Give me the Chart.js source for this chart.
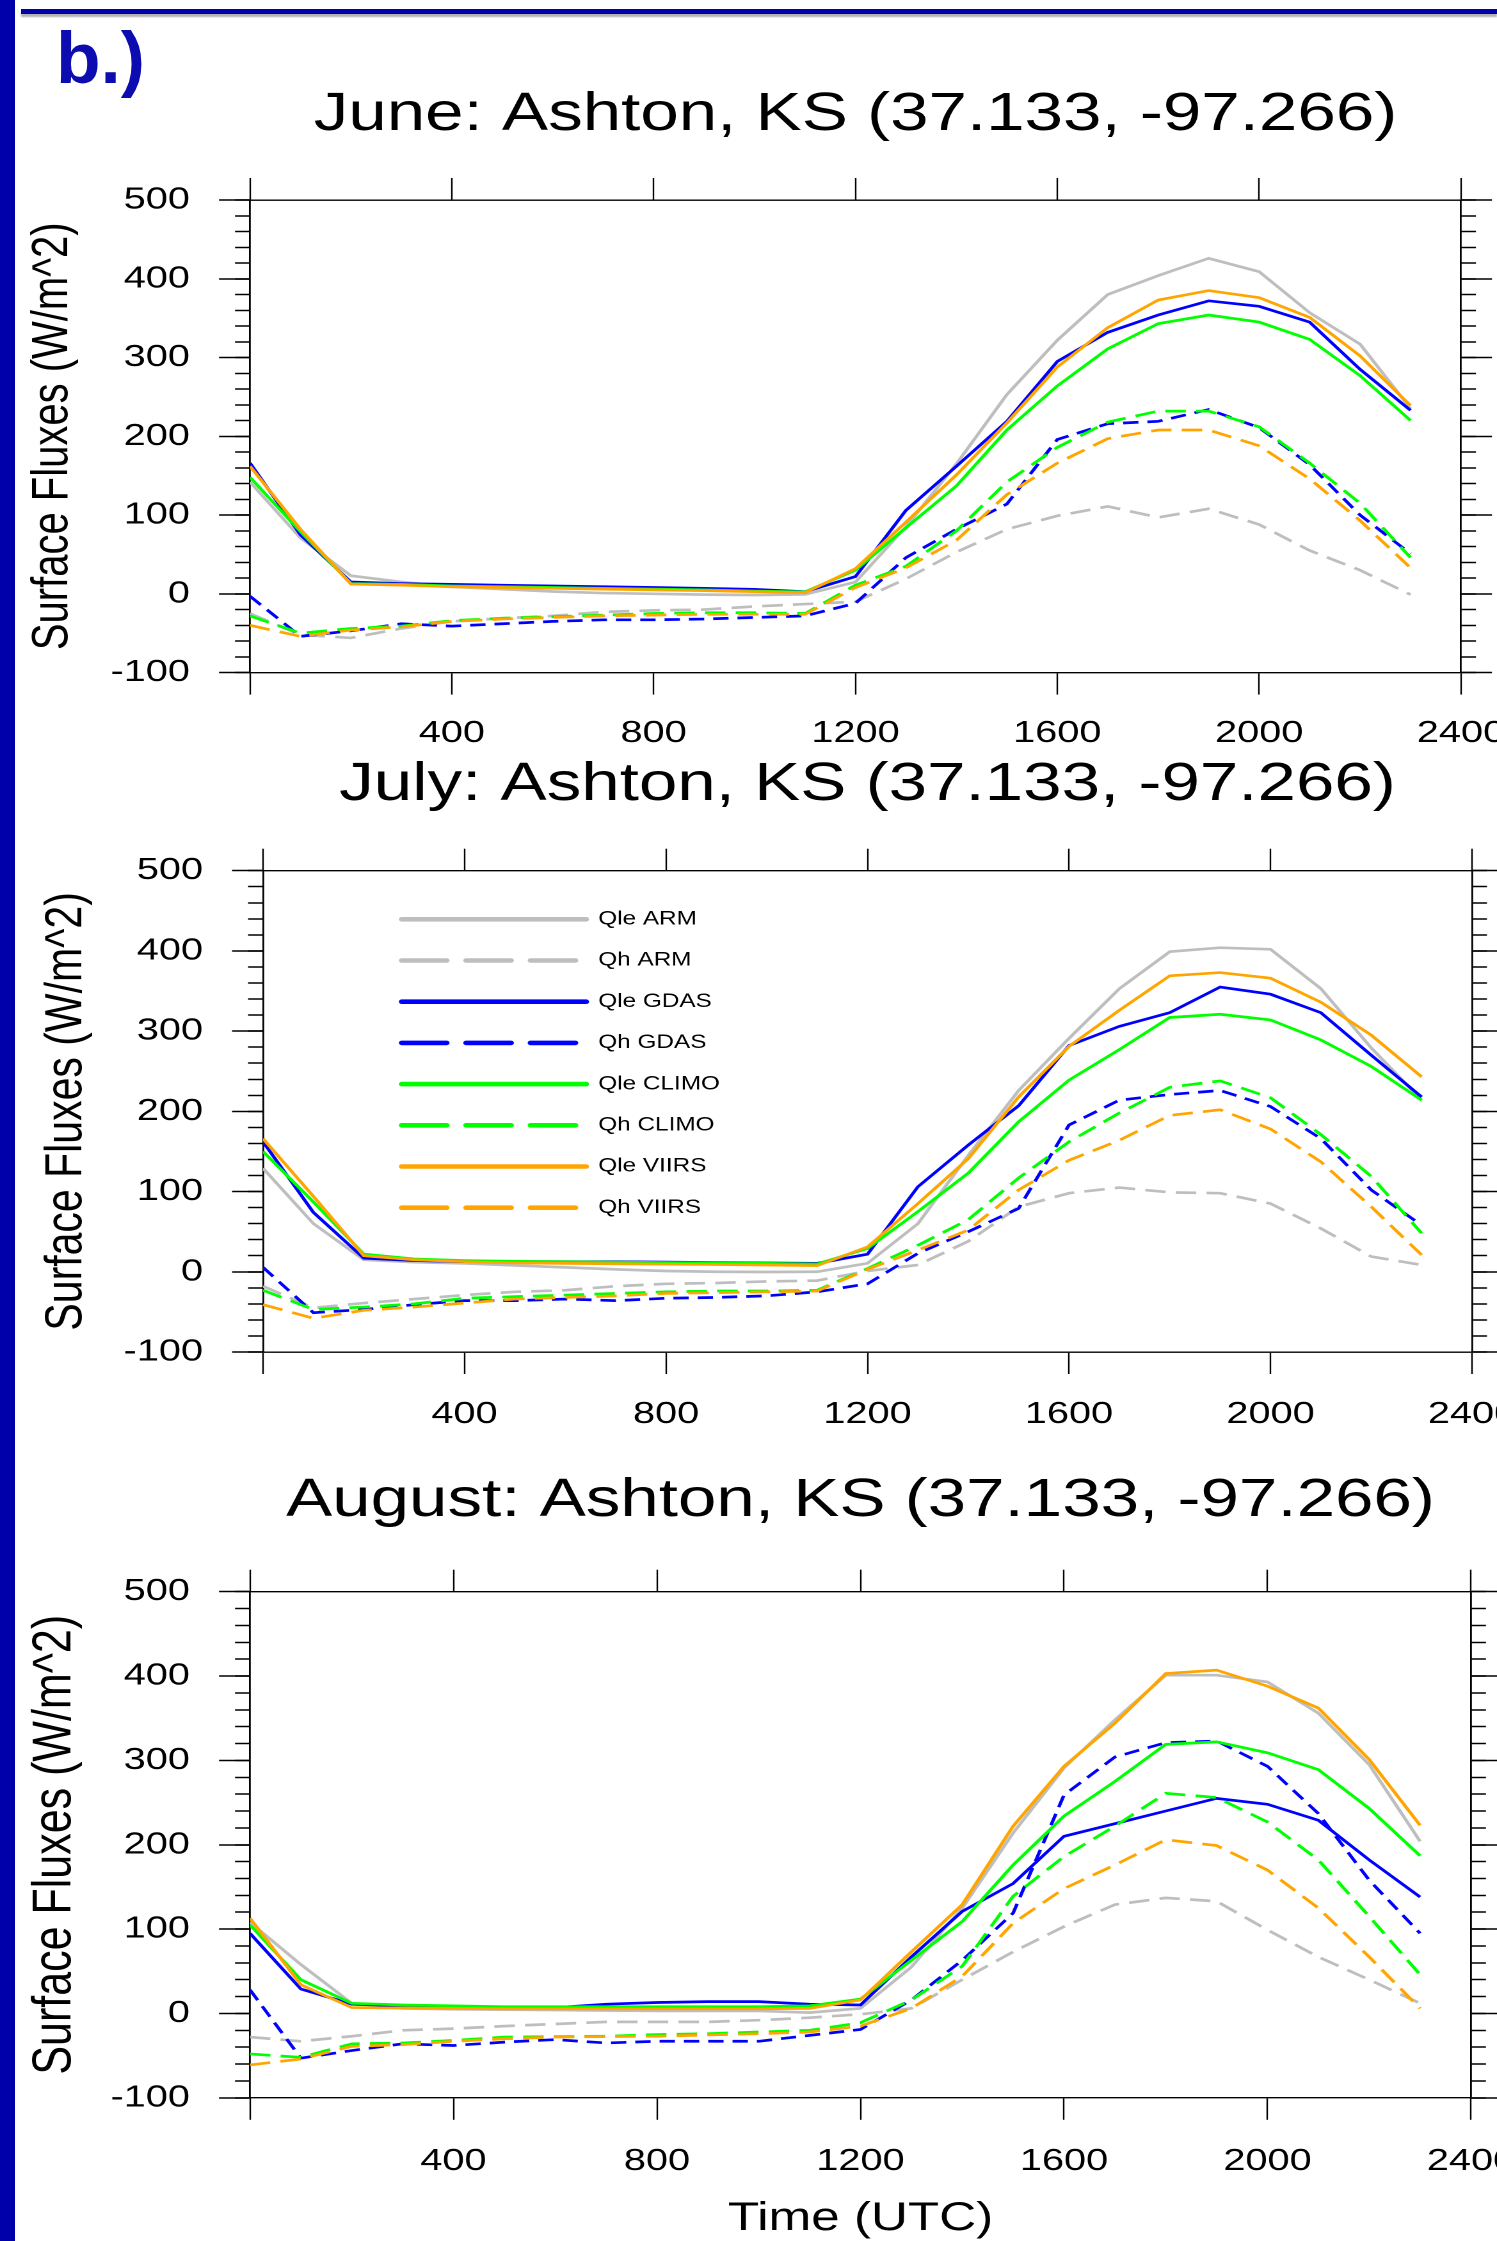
<!DOCTYPE html>
<html>
<head>
<meta charset="utf-8">
<script src="https://cdn.jsdelivr.net/npm/chart.js@4.4.1/dist/chart.umd.min.js"></script>
<style>
  body { margin: 0; width: 1497px; height: 2241px; overflow: hidden; background: #fff; position: relative; }
  /* the original figure is stretched sideways, so each chart is drawn narrow and widened */
  canvas { position: absolute; left: 0; transform: scaleX(1.28); transform-origin: 0 0; }
  #barLeft { position: absolute; left: 0; top: 0; width: 15px; height: 2241px; background: #0000aa; z-index: 2; }
  #barTop { position: absolute; left: 21px; top: 9px; right: 0; height: 5px; background: #0000aa; box-shadow: 0 3px 2px #b0b0b0; z-index: 2; }
  #tag { position: absolute; left: 56px; top: 21px; font: bold 73px/73px 'Liberation Sans', Arial, sans-serif; color: #0c0cb0; z-index: 2; }
</style>
</head>
<body>
<canvas id="june" width="1230" height="780" style="top:0px"></canvas>
<canvas id="july" width="1230" height="760" style="top:700px"></canvas>
<canvas id="august" width="1230" height="821" style="top:1420px"></canvas>
<div id="barLeft"></div>
<div id="barTop"></div>
<div id="tag">b.)</div>

<script>
// heure UTC (HHMM)
const hours = [0, 100, 200, 300, 400, 500, 600, 700, 800, 900, 1000, 1100, 1200, 1300, 1400, 1500, 1600, 1700, 1800, 1900, 2000, 2100, 2200, 2300];
const seriesNames = ['Qle ARM', 'Qh ARM', 'Qle GDAS', 'Qh GDAS', 'Qle CLIMO', 'Qh CLIMO', 'Qle VIIRS', 'Qh VIIRS'];

// June
const juneQleArm   = [142, 71, 23, 15, 9, 6, 3, 1, 0, -1, -1.5, -0.7, 15, 85, 165, 253, 322, 380, 404, 426, 409, 357, 317, 235];
const juneQhArm    = [-25, -52, -56, -44, -35, -31, -28, -23, -21, -20, -16, -13, -10, 19, 53, 82, 99, 111, 97, 108, 88, 55, 30, -1];
const juneQleGdas  = [166, 75, 15, 13, 12, 11, 10, 9, 8, 7, 5.7, 2.7, 22, 106, 162, 219, 295, 332, 354, 372, 365, 345, 285, 233];
const juneQhGdas   = [-3, -54, -47, -38, -41, -38, -35, -33, -33, -32, -30, -28, -12, 46, 82, 114, 196, 216, 219, 234, 211, 164, 100, 51];
const juneQleClimo = [148, 79, 13, 12, 10, 9, 8, 7, 6, 5, 3.5, 2.5, 30, 84, 137, 208, 264, 311, 343, 354, 345, 323, 277, 220];
const juneQhClimo  = [-28, -50, -44, -41, -34, -31, -29, -27, -25, -24, -24, -25, 11, 35, 80, 142, 186, 218, 232, 232, 212, 166, 115, 46];
const juneQleViirs = [162, 82, 12.5, 11, 9, 8, 7, 6, 5, 4, 2.7, 1.5, 32, 91, 151, 217, 288, 338, 373, 385, 376, 351, 302, 239];
const juneQhViirs  = [-40, -54, -46, -42, -35, -32, -30, -28, -27, -26, -26, -26, 8, 33, 68, 126, 166, 197, 208, 208, 188, 146, 93, 33];

// July
const julyQleArm   = [129, 60, 15, 12, 10.5, 8, 5.5, 3, 1, 0, -0.3, 0, 10.6, 60, 145, 226, 291, 353, 399, 404, 402, 353, 279, 214];
const julyQhArm    = [-18, -45, -39, -34, -29, -25, -23, -18, -15, -14, -12, -11, 1, 8.5, 38, 81, 98, 105, 99, 98, 85, 54, 19, 8.5];
const julyQleGdas  = [162, 74, 17, 14, 12.6, 12.5, 12.5, 12.5, 12, 11.5, 11, 10.5, 22, 106, 158, 207, 282, 306, 323, 355, 346, 323, 270, 218];
const julyQhGdas   = [5.5, -51, -47, -41, -36, -36, -34, -36, -33, -32, -30, -25, -15, 23, 50, 79, 183, 214, 221, 226, 206, 166, 102, 58];
const julyQleClimo = [150, 87, 22, 16, 14, 13, 12.5, 12, 11.5, 11, 10.5, 9.7, 29, 75, 123, 187, 239, 277, 317, 321, 314, 289, 256, 214];
const julyQhClimo  = [-23, -47, -44, -40, -33, -31, -29, -27, -25, -24, -24, -23, 4, 33, 65, 117, 162, 198, 230, 238, 217, 171, 119, 48];
const julyQleViirs = [166, 94, 20, 15, 12.6, 11, 10.5, 10, 9.5, 9, 8.5, 7.6, 31, 85, 141, 218, 281, 326, 369, 373, 366, 336, 295, 243];
const julyQhViirs  = [-41, -58, -48, -44, -39, -34, -32, -30, -27, -26, -25, -24, 3, 27, 52, 102, 139, 164, 195, 202, 178, 137, 81, 21];

// August
const augQleArm   = [108, 58, 12, 6, 5, 4.5, 4, 3.5, 3, 3, 3, 1, 6, 55, 125, 214, 291, 348, 401, 401, 393, 356, 295, 204];
const augQhArm    = [-28, -33, -27, -20, -18, -15, -12.5, -10, -10, -10, -8, -5, -1, 6, 40, 73, 103, 129, 137, 133, 99, 67, 40, 12];
const augQleGdas  = [95, 29, 11, 9, 8, 7.3, 7, 11, 13, 14, 14, 11, 10, 67, 121, 154, 210, 225, 240, 255, 248, 229, 182, 138];
const augQhGdas   = [28, -53, -44, -36, -38, -34, -31, -35, -33, -33, -33, -26, -19, 16, 63, 119, 259, 304, 321, 323, 293, 237, 158, 95];
const augQleClimo = [105, 40, 12, 10, 9, 8, 8, 8, 8, 8, 8, 9, 17, 63, 109, 176, 234, 275, 319, 322, 309, 289, 243, 187];
const augQhClimo  = [-48, -52, -36, -35, -32, -28, -27.5, -27, -25, -24, -22, -20, -11, 16, 56, 139, 186, 222, 261, 256, 227, 182, 115, 46];
const augQleViirs = [113, 34, 7, 6.5, 6, 5.5, 5.5, 5.5, 5.5, 5.5, 5.5, 6, 16, 73, 129, 222, 293, 344, 403, 407, 388, 362, 301, 223];
const augQhViirs  = [-61, -54, -39, -37, -33, -30, -28, -27.5, -27, -25.5, -24, -22, -15, 6, 44, 107, 148, 176, 206, 199, 170, 125, 67, 6];

const colors = ['#bebebe', '#bebebe', '#0000ff', '#0000ff', '#00ff00', '#00ff00', '#ffa500', '#ffa500'];

Chart.defaults.font.family = "'Liberation Sans', Arial, sans-serif";
Chart.defaults.color = '#000';

// déplacer la légende à l'intérieur du graphique (en haut à gauche)
const legendShift = {
    id: 'legendShift',
    afterLayout(chart, args, opts) {
        const lg = chart.legend;
        if (!lg || !opts.dx) return;
        const h = lg.bottom - lg.top;
        lg.left += opts.dx; lg.right += opts.dx;
        lg.top = chart.chartArea.top + opts.dy;
        lg.bottom = lg.top + h;
    }
};

function createPanel(id, title, series, L) {
    const ctx = document.getElementById(id).getContext('2d');
    const datasets = series.map((vals, i) => {
        const dashed = i % 2 === 1;
        return {
            label: seriesNames[i],
            data: hours.map((h, j) => ({ x: h, y: vals[j] })),
            borderColor: colors[i],
            backgroundColor: colors[i],
            borderWidth: 2.7,
            borderDash: dashed ? (colors[i] === '#0000ff' ? [12, 7] : [16, 8]) : [],
            pointRadius: 0,
            fill: false,
            order: 8 - i
        };
    });

    const tickFont = { size: 31, lineHeight: 1 };
    const xGrid = { drawOnChartArea: false, tickLength: 22, tickWidth: 1.2, tickColor: '#000' };
    const border = { color: '#000', width: 1.4 };

    new Chart(ctx, {
        type: 'line',
        data: { datasets: datasets },
        plugins: [legendShift],
        options: {
            responsive: false,
            animation: false,
            devicePixelRatio: 2,
            layout: { padding: { left: L.padLeft, right: 0, top: 0, bottom: 0 } },
            plugins: {
                title: {
                    display: true,
                    text: title,
                    fullSize: false,
                    font: { size: 54, lineHeight: 1, weight: 'normal' },
                    color: '#000',
                    padding: { top: L.titleTop, bottom: L.titleBottom }
                },
                legend: {
                    display: L.legend,
                    position: 'chartArea',
                    align: 'start',
                    labels: {
                        usePointStyle: true,
                        pointStyle: 'line',
                        pointStyleWidth: 144,
                        padding: 22.2,
                        color: '#000',
                        font: { size: 19 },
                        sort: (a, b) => a.datasetIndex - b.datasetIndex,
                        generateLabels: function (chart) {
                            const items = Chart.defaults.plugins.legend.labels.generateLabels(chart);
                            items.forEach(item => {
                                const ds = chart.data.datasets[item.datasetIndex];
                                item.lineWidth = 4.6;
                                item.lineCap = 'round';
                                item.lineDash = ds.borderDash.length ? [35, 15.3] : [];
                            });
                            return items;
                        }
                    }
                },
                legendShift: { dx: 86.2, dy: 16.9 },
                tooltip: { enabled: false }
            },
            scales: {
                x: {
                    type: 'linear', position: 'bottom', min: 0, max: 2400,
                    ticks: {
                        stepSize: 400, padding: L.xPad, font: tickFont, color: '#000',
                        maxRotation: 0, autoSkip: false,
                        callback: v => v === 0 ? '' : String(v)
                    },
                    grid: xGrid,
                    border: border,
                    title: {
                        display: L.xTitle,
                        text: 'Time (UTC)',
                        font: { size: 40, lineHeight: 1 },
                        color: '#000',
                        padding: { top: 0, bottom: 2 }
                    },
                    afterFit: s => { s.height = L.bottomH; }
                },
                xTop: {
                    type: 'linear', position: 'top', min: 0, max: 2400,
                    ticks: { stepSize: 400, display: false },
                    grid: xGrid,
                    border: border,
                    afterFit: s => { s.height = 22; }
                },
                y: {
                    type: 'linear', position: 'left', weight: 1, min: -100, max: 500,
                    ticks: { stepSize: 100, padding: 22.7, font: tickFont, color: '#000' },
                    grid: { drawOnChartArea: false, tickLength: 24.2, tickWidth: 1.5, tickColor: '#000' },
                    border: border,
                    title: {
                        display: true,
                        text: 'Surface Fluxes (W/m^2)',
                        font: { size: L.yTitleSize, lineHeight: 1 },
                        color: '#000',
                        padding: { top: 21.4, bottom: 0 }
                    },
                    afterFit: s => { s.width = 195.3; }
                },
                yMinor: {
                    type: 'linear', position: 'left', weight: 0, min: -100, max: 500,
                    ticks: { stepSize: 20, display: false },
                    grid: { drawOnChartArea: false, tickLength: 11.7, tickWidth: 1.5, tickColor: '#000' },
                    border: { display: false },
                    afterFit: s => { s.width = 0; }
                },
                y2: {
                    type: 'linear', position: 'right', weight: 1, min: -100, max: 500,
                    ticks: { stepSize: 100, display: false },
                    grid: { drawOnChartArea: false, tickLength: 24.2, tickWidth: 1.5, tickColor: '#000' },
                    border: border,
                    afterFit: s => { s.width = L.rightW; }
                },
                y2Minor: {
                    type: 'linear', position: 'right', weight: 0, min: -100, max: 500,
                    ticks: { stepSize: 20, display: false },
                    grid: { drawOnChartArea: false, tickLength: 11.7, tickWidth: 1.5, tickColor: '#000' },
                    border: { display: false },
                    afterFit: s => { s.width = 0; }
                }
            }
        }
    });
}

createPanel('june', 'June: Ashton, KS (37.133, -97.266)',
    [juneQleArm, juneQhArm, juneQleGdas, juneQhGdas, juneQleClimo, juneQhClimo, juneQleViirs, juneQhViirs],
    { padLeft: 0, rightW: 88.6, titleTop: 88, titleBottom: 36, bottomH: 107.4, xPad: 23.4, yTitleSize: 40, xTitle: false, legend: false });

createPanel('july', 'July: Ashton, KS (37.133, -97.266)',
    [julyQleArm, julyQhArm, julyQleGdas, julyQhGdas, julyQleClimo, julyQhClimo, julyQleViirs, julyQhViirs],
    { padLeft: 10.2, rightW: 80, titleTop: 58, titleBottom: 36.7, bottomH: 108, xPad: 25, yTitleSize: 41, xTitle: false, legend: true });

createPanel('august', 'August: Ashton, KS (37.133, -97.266)',
    [augQleArm, augQhArm, augQleGdas, augQhGdas, augQleClimo, augQhClimo, augQleViirs, augQhViirs],
    { padLeft: 0, rightW: 80.8, titleTop: 54, titleBottom: 41.7, bottomH: 143.2, xPad: 26, yTitleSize: 43, xTitle: true, legend: false });
</script>
</body>
</html>
